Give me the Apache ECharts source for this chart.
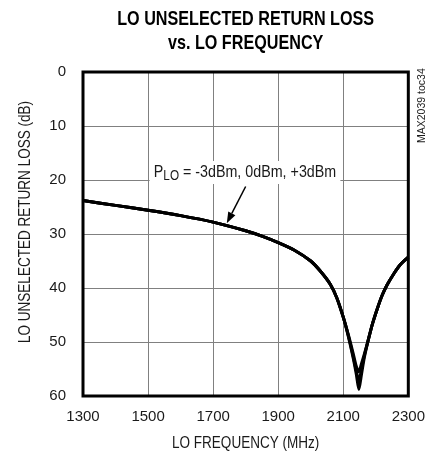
<!DOCTYPE html>
<html>
<head>
<meta charset="utf-8">
<script src="https://cdn.jsdelivr.net/npm/echarts@6/dist/echarts.min.js"></script>
<style>
  html, body { margin: 0; padding: 0; background: #fff; }
  #chart { width: 428px; height: 459px; }
</style>
</head>
<body>
<div id="chart"></div>
<script>
// LO frequency (MHz)
const freqs = [1300, 1400, 1500, 1600, 1700, 1800, 1850, 1900, 1950, 2000, 2030, 2060, 2080, 2100, 2115, 2130, 2140, 2148, 2156, 2165, 2177, 2190, 2206, 2220, 2235, 2255, 2275, 2300];
// return loss (dB) per LO power
const rlMinus3 = [23.8, 24.7, 25.6, 26.6, 27.8, 29.4, 30.4, 31.6, 33.0, 35.0, 36.9, 39.3, 41.8, 45.4, 48.8, 52.8, 55.9, 58.8, 56.0, 52.8, 49.6, 46.6, 43.6, 41.3, 39.4, 37.4, 35.7, 34.3];
const rl0 = [23.8, 24.7, 25.6, 26.6, 27.8, 29.4, 30.4, 31.6, 33.0, 35.0, 36.9, 39.3, 41.8, 45.4, 48.7, 52.5, 55.3, 57.3, 55.0, 52.5, 49.6, 46.6, 43.6, 41.3, 39.4, 37.4, 35.7, 34.3];
const rlPlus3 = [23.8, 24.7, 25.6, 26.6, 27.8, 29.4, 30.4, 31.6, 33.0, 35.0, 36.9, 39.3, 41.8, 45.4, 48.5, 52.0, 54.5, 55.5, 54.0, 52.2, 49.6, 46.6, 43.6, 41.3, 39.4, 37.4, 35.7, 34.3];
const xTicks = [1300, 1500, 1700, 1900, 2100, 2300];
const yTicks = [0, 10, 20, 30, 40, 50, 60];

const F0 = xTicks[0]; // x axis runs as offset from 1300 so ticks land on 1300, 1500...
const font = '"Liberation Sans", Arial, sans-serif';
const narrow = 0.82; // squeeze text to look like the condensed face of the original

function pairs(ys) {
  return freqs.map((f, i) => [f - F0, ys[i]]);
}

const chart = echarts.init(document.getElementById('chart'));

const lineSeries = [rlMinus3, rl0, rlPlus3].map((ys) => ({
  type: 'line',
  data: pairs(ys),
  smooth: 0.25,
  showSymbol: false,
  lineStyle: { color: '#000', width: 3 },
  z: 3,
}));

chart.setOption({
  animation: false,
  grid: {
    left: 83, right: 17, top: 72, bottom: 63,
    show: true, borderColor: '#000', borderWidth: 3, z: 4,
  },
  xAxis: {
    type: 'value',
    min: 0, max: xTicks[xTicks.length - 1] - F0, interval: 200,
    axisLine: { show: false },
    axisTick: { show: false },
    axisLabel: { formatter: (v) => String(v + F0), margin: 13, fontFamily: font, fontSize: 15, color: '#1a1a1a' },
    splitLine: { show: true, lineStyle: { color: '#808080', width: 1 } },
  },
  yAxis: {
    type: 'value',
    inverse: true,
    min: yTicks[0], max: yTicks[yTicks.length - 1], interval: 10,
    axisLine: { show: false },
    axisTick: { show: false },
    axisLabel: { margin: 17, fontFamily: font, fontSize: 15, color: '#1a1a1a' },
    splitLine: { show: true, lineStyle: { color: '#808080', width: 1 } },
  },
  series: lineSeries,
});

// texts and annotation, placed from the grid's own scale
const px = (f, db) => chart.convertToPixel({ gridIndex: 0 }, [f - F0, db]);
const topLeft = px(1300, 0), botRight = px(2300, 60);
const midX = (topLeft[0] + botRight[0]) / 2;

const textPos = px(1798, 18.6);
const tail = px(1800, 21.2);
const tip = px(1742, 28.0);
const ang = Math.atan2(tip[1] - tail[1], tip[0] - tail[0]);
const hl = 11, hw = 4;
const bx = tip[0] - hl * Math.cos(ang), by = tip[1] - hl * Math.sin(ang);
const head = [
  tip,
  [bx + hw * Math.sin(ang), by - hw * Math.cos(ang)],
  [bx - hw * Math.sin(ang), by + hw * Math.cos(ang)],
];

chart.setOption({
  graphic: [
    {
      type: 'text',
      x: midX, y: 31, scaleX: 0.77,
      style: {
        text: 'LO UNSELECTED RETURN LOSS\nvs. LO FREQUENCY',
        fontFamily: font, fontWeight: 'bold', fontSize: 21, lineHeight: 24,
        fill: '#000', align: 'center', verticalAlign: 'middle',
      },
    },
    {
      type: 'text',
      x: midX, y: 443, scaleX: narrow,
      style: {
        text: 'LO FREQUENCY (MHz)',
        fontFamily: font, fontSize: 16.5, fill: '#1a1a1a', align: 'center', verticalAlign: 'middle',
      },
    },
    {
      type: 'text',
      x: 25, y: 222, rotation: Math.PI / 2, scaleX: narrow,
      style: {
        text: 'LO UNSELECTED RETURN LOSS (dB)',
        fontFamily: font, fontSize: 16.5, fill: '#1a1a1a', align: 'center', verticalAlign: 'middle',
      },
    },
    {
      type: 'text',
      x: textPos[0], y: textPos[1], z: 10, scaleX: 0.84,
      style: {
        text: '{a|P}{s|LO}{a| = -3dBm, 0dBm, +3dBm}',
        align: 'center', verticalAlign: 'middle',
        backgroundColor: '#fff', padding: [1, 5],
        rich: {
          a: { fontFamily: font, fontSize: 17, fill: '#1a1a1a' },
          s: { fontFamily: font, fontSize: 14, fill: '#1a1a1a', padding: [7, 0, 0, 0] },
        },
      },
    },
    {
      type: 'line', z: 10,
      shape: { x1: tail[0], y1: tail[1], x2: bx, y2: by },
      style: { stroke: '#000', lineWidth: 1.5 },
    },
    {
      type: 'polygon', z: 10,
      shape: { points: head },
      style: { fill: '#000' },
    },
    {
      type: 'text',
      x: 417, y: 143, rotation: Math.PI / 2, z: 10,
      style: { text: 'MAX2039 toc34', fontFamily: font, fontSize: 10.5, fill: '#1a1a1a', align: 'left', verticalAlign: 'top' },
    },
  ],
});
</script>
</body>
</html>
